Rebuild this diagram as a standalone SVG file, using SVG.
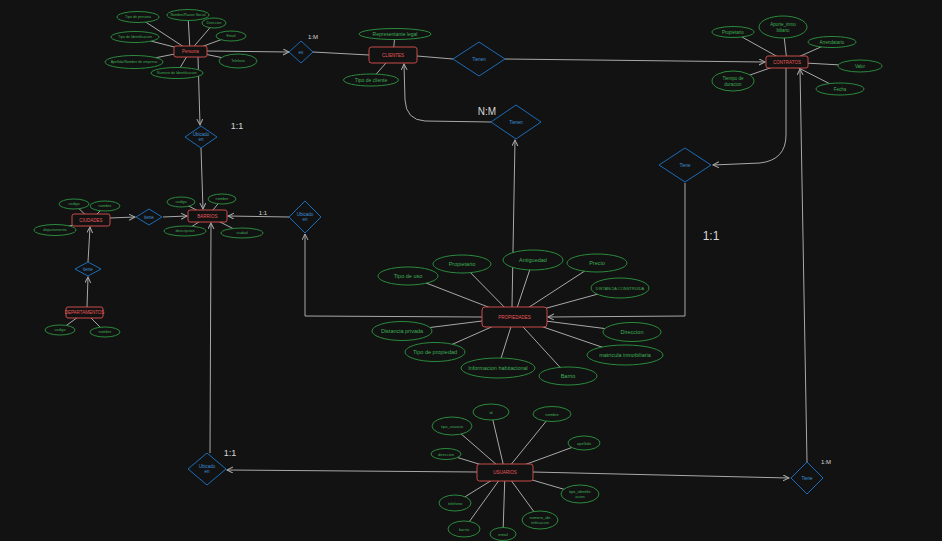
<svg xmlns="http://www.w3.org/2000/svg" width="942" height="541" viewBox="0 0 942 541">
<style>
.bg{fill:#121212}
.ln{stroke:#a8a8a8;stroke-width:1;fill:none}
.ent rect{fill:#121212;stroke:#c94a4a;stroke-width:1}
.ent text{fill:#e8585a;font-family:"Liberation Sans",sans-serif;text-anchor:middle;dominant-baseline:central;font-size:4.5px}
.att ellipse{fill:#121212;stroke:#2b8a3e;stroke-width:1}
.att text{fill:#3fae55;font-family:"Liberation Sans",sans-serif;text-anchor:middle;dominant-baseline:central}
.rel polygon{fill:#121212;stroke:#1b6cb8;stroke-width:1;stroke-linejoin:round}
.rel text{fill:#3d8fd6;font-family:"Liberation Sans",sans-serif;text-anchor:middle;dominant-baseline:central;font-size:4.5px}
.lbl{fill:#d8d8d8;font-family:"Liberation Sans",sans-serif;text-anchor:middle;dominant-baseline:central}
</style>
<defs>
<marker id="ar" markerUnits="userSpaceOnUse" markerWidth="8" markerHeight="8" refX="6" refY="3" orient="auto">
<path d="M0,0 L6,3 L0,6" fill="none" stroke="#a8a8a8" stroke-width="1"/>
</marker>
</defs>
<rect class="bg" x="0" y="0" width="942" height="541"/>
<g id="connectors" class="ln">
<path d="M190,51 L138,17 M190,51 L188,15 M190,51 L214,23 M190,51 L231,36 M190,51 L135,37 M190,51 L238,61 M190,51 L134,62 M190,51 L177,73"/>
<path d="M393,55 L395,34 M393,55 L371,80"/>
<path d="M787,62 L733,32 M787,62 L783,27 M787,62 L832,42 M787,62 L859,66 M787,62 L840,89 M787,62 L733,81"/>
<path d="M208,216 L181,202 M208,216 L222,199 M208,216 L185,231 M208,216 L242,233"/>
<path d="M91,220 L74,204 M91,220 L105,206 M91,220 L55,230"/>
<path d="M85,312 L60,330 M85,312 L105,332"/>
<path d="M514,317 L408,276 M514,317 L462,264 M514,317 L533,260 M514,317 L597,263 M514,317 L620,288 M514,317 L632,332 M514,317 L625,355 M514,317 L568,376 M514,317 L498,368 M514,317 L435,352 M514,317 L402,331"/>
<path d="M505,472 L452,426 M505,472 L491,412 M505,472 L552,414 M505,472 L584,443 M505,472 L446,454 M505,472 L580,494 M505,472 L540,520 M505,472 L455,503 M505,472 L464,529 M505,472 L503,534"/>
<path d="M207,51 L289,52" marker-end="url(#ar)"/>
<path d="M313,52 L369,55"/>
<path d="M417,56 L453,59"/>
<path d="M505,59 L765,62" marker-end="url(#ar)"/>
<path d="M491,122 L425,121 Q406,120 405,100 L404,64" marker-end="url(#ar)"/>
<path d="M786,68 L786,135 Q786,160 760,163 L713,165" marker-end="url(#ar)"/>
<path d="M685,183 L685,316 L548,317" marker-end="url(#ar)"/>
<path d="M533,472 L789,478" marker-end="url(#ar)"/>
<path d="M807,462 L800,69" marker-end="url(#ar)"/>
<path d="M198,57 L200,125" marker-end="url(#ar)"/>
<path d="M201,148 L203,209" marker-end="url(#ar)"/>
<path d="M289,217 L228,216" marker-end="url(#ar)"/>
<path d="M482,317 L305,316 L305,234" marker-end="url(#ar)"/>
<path d="M512,307 L515,140" marker-end="url(#ar)"/>
<path d="M110,218 L135,217" marker-end="url(#ar)"/>
<path d="M163,217 L187,216" marker-end="url(#ar)"/>
<path d="M88,262 L90,227" marker-end="url(#ar)"/>
<path d="M87,307 L88,277" marker-end="url(#ar)"/>
<path d="M477,472 L227,470" marker-end="url(#ar)"/>
<path d="M210,453 L211,223" marker-end="url(#ar)"/>
</g>
<g id="labels">
<text class="lbl" x="313" y="37" font-size="6">1:M</text>
<text class="lbl" x="237" y="126" font-size="9">1:1</text>
<text class="lbl" x="487" y="111" font-size="10">N:M</text>
<text class="lbl" x="711" y="236" font-size="12">1:1</text>
<text class="lbl" x="263" y="213" font-size="6">1:1</text>
<text class="lbl" x="230" y="453" font-size="9">1:1</text>
<text class="lbl" x="826" y="462" font-size="6">1:M</text>
</g>
<g id="persona" class="ent"><rect x="174" y="46" width="33" height="11" rx="2"/><text x="190.5" y="51.5" font-size="4">Persona</text></g>
<g id="persona-attrs" class="att" font-size="3.6">
<g id="p-tipo-persona"><ellipse cx="138" cy="17" rx="21" ry="5.5"/><text x="138" y="17">Tipo de persona</text></g>
<g id="p-nombre"><ellipse cx="188" cy="15" rx="21" ry="5.5"/><text x="188" y="15">Nombre/Razon Social</text></g>
<g id="p-direccion"><ellipse cx="214" cy="23" rx="12" ry="5"/><text x="214" y="23">Direccion</text></g>
<g id="p-email"><ellipse cx="231" cy="36" rx="15" ry="5"/><text x="231" y="36">Email</text></g>
<g id="p-tipo-id"><ellipse cx="135" cy="37" rx="24" ry="5.5"/><text x="135" y="37">Tipo de Identificacion</text></g>
<g id="p-telefono"><ellipse cx="238" cy="61" rx="19" ry="7"/><text x="238" y="61">Telefono</text></g>
<g id="p-apellido"><ellipse cx="134" cy="62" rx="29" ry="6.5"/><text x="134" y="62">Apellido/Nombre de empresa</text></g>
<g id="p-numero-id"><ellipse cx="177" cy="73" rx="26" ry="5.5"/><text x="177" y="73">Numero de Identificacion</text></g>
</g>
<g id="rel-es" class="rel"><polygon points="301,41 313,52 301,63 289,52"/><text x="301" y="52">es</text></g>
<g id="clientes" class="ent"><rect x="369" y="47" width="48" height="16" rx="2.5"/><text x="393" y="55">CLIENTES</text></g>
<g id="clientes-attrs" class="att" font-size="5">
<g id="c-rep"><ellipse cx="395" cy="34" rx="36" ry="5.5"/><text x="395" y="34">Representante legal</text></g>
<g id="c-tipo"><ellipse cx="371" cy="80" rx="27.5" ry="6"/><text x="371" y="80">Tipo de cliente</text></g>
</g>
<g id="rel-tienen1" class="rel"><polygon points="479,42 505,59 479,76 453,59"/><text x="479" y="59">Tienen</text></g>
<g id="rel-tienen2" class="rel"><polygon points="516,105 541,122 516,139 491,122"/><text x="516" y="122">Tienen</text></g>
<g id="contratos" class="ent"><rect x="766" y="56" width="42" height="12" rx="2"/><text x="787" y="62">CONTRATOS</text></g>
<g id="contratos-attrs" class="att" font-size="4.5">
<g id="ct-propietario"><ellipse cx="733" cy="32" rx="21" ry="5.5"/><text x="733" y="32">Propietario</text></g>
<g id="ct-aporte"><ellipse cx="783" cy="27" rx="24" ry="11"/><text x="783" y="24.5">Aporte_inmo</text><text x="783" y="30.5">biliario</text></g>
<g id="ct-arrendatario"><ellipse cx="832" cy="42" rx="24" ry="5.5"/><text x="832" y="42">Arrendatario</text></g>
<g id="ct-valor"><ellipse cx="860" cy="66" rx="22" ry="6"/><text x="860" y="66">Valor</text></g>
<g id="ct-fecha"><ellipse cx="840" cy="89" rx="24" ry="6"/><text x="840" y="89">Fecha</text></g>
<g id="ct-tiempo"><ellipse cx="733" cy="81" rx="21" ry="10"/><text x="733" y="78.5">Tiempo de</text><text x="733" y="84.5">duracion</text></g>
</g>
<g id="rel-tiene-prop" class="rel"><polygon points="685,148 711,165 685,182 659,165"/><text x="685" y="165">Tiene</text></g>
<g id="rel-ubicado1" class="rel"><polygon points="201,126 217,137 201,148 185,137"/><text x="201" y="134.5" font-size="3.5">Ubicado</text><text x="201" y="139.5" font-size="3.5">en</text></g>
<g id="barrios" class="ent"><rect x="188" y="210" width="39" height="12" rx="2"/><text x="207.5" y="216" font-size="4">BARRIOS</text></g>
<g id="barrios-attrs" class="att" font-size="3.8">
<g id="b-codigo"><ellipse cx="181" cy="202" rx="14" ry="5"/><text x="181" y="202">codigo</text></g>
<g id="b-nombre"><ellipse cx="222" cy="199" rx="14" ry="5"/><text x="222" y="199">nombre</text></g>
<g id="b-descripcion"><ellipse cx="185" cy="231" rx="21" ry="5"/><text x="185" y="231">descripcion</text></g>
<g id="b-ciudad"><ellipse cx="242" cy="233" rx="21" ry="5"/><text x="242" y="233">ciudad</text></g>
</g>
<g id="ciudades" class="ent"><rect x="72" y="214" width="38" height="12" rx="2"/><text x="91" y="220" font-size="4">CIUDADES</text></g>
<g id="ciudades-attrs" class="att" font-size="3.8">
<g id="ci-codigo"><ellipse cx="74" cy="204" rx="15" ry="5"/><text x="74" y="204">codigo</text></g>
<g id="ci-nombre"><ellipse cx="105" cy="206" rx="15" ry="5"/><text x="105" y="206">nombre</text></g>
<g id="ci-departamento"><ellipse cx="55" cy="230" rx="21" ry="5.5"/><text x="55" y="230">departamento</text></g>
</g>
<g id="rel-tiene-ciudad" class="rel"><polygon points="149,209 162,217 149,225 136,217"/><text x="149" y="217" font-size="3.8">tiene</text></g>
<g id="rel-ubicado2" class="rel"><polygon points="305,201 321,217 305,233 289,217"/><text x="305" y="214.5" font-size="3.5">Ubicado</text><text x="305" y="219.5" font-size="3.5">en</text></g>
<g id="rel-tiene-dep" class="rel"><polygon points="88,262 101,269 88,276 75,269"/><text x="88" y="269" font-size="3.8">tiene</text></g>
<g id="departamentos" class="ent"><rect x="66" y="307" width="37" height="11" rx="2"/><text x="84.5" y="312.5" font-size="3.8">DEPARTAMENTOS</text></g>
<g id="departamentos-attrs" class="att" font-size="3.8">
<g id="d-codigo"><ellipse cx="60" cy="330" rx="15" ry="5"/><text x="60" y="330">codigo</text></g>
<g id="d-nombre"><ellipse cx="105" cy="332" rx="15" ry="5"/><text x="105" y="332">nombre</text></g>
</g>
<g id="propiedades" class="ent"><rect x="482" y="307" width="65" height="20" rx="3"/><text x="514.5" y="317">PROPIEDADES</text></g>
<g id="propiedades-attrs" class="att" font-size="5.5">
<g id="pr-tipo-uso"><ellipse cx="408" cy="276" rx="30" ry="9"/><text x="408" y="276">Tipo de uso</text></g>
<g id="pr-propietario"><ellipse cx="462" cy="264" rx="29" ry="9"/><text x="462" y="264">Propietario</text></g>
<g id="pr-antiguedad"><ellipse cx="533" cy="260" rx="30" ry="10"/><text x="533" y="260">Antiguedad</text></g>
<g id="pr-precio"><ellipse cx="597" cy="263" rx="30" ry="9"/><text x="597" y="263">Precio</text></g>
<g id="pr-distancia-construida"><ellipse cx="620" cy="288" rx="29" ry="10"/><text x="620" y="288" font-size="4">DISTANCIA CONSTRUIDA</text></g>
<g id="pr-direccion"><ellipse cx="632" cy="332" rx="29" ry="9.5"/><text x="632" y="332">Direccion</text></g>
<g id="pr-matricula"><ellipse cx="625" cy="355" rx="38" ry="10"/><text x="625" y="355">matricula inmobiliaria</text></g>
<g id="pr-barrio"><ellipse cx="568" cy="376" rx="29" ry="9"/><text x="568" y="376">Barrio</text></g>
<g id="pr-info-hab"><ellipse cx="498" cy="368" rx="37" ry="10"/><text x="498" y="368">Informacion habitacional</text></g>
<g id="pr-tipo-propiedad"><ellipse cx="435" cy="352" rx="30" ry="9.5"/><text x="435" y="352">Tipo de propiedad</text></g>
<g id="pr-distancia-privada"><ellipse cx="402" cy="331" rx="30" ry="9.5"/><text x="402" y="331">Distancia privada</text></g>
</g>
<g id="usuarios" class="ent"><rect x="477" y="464" width="56" height="17" rx="2.5"/><text x="505" y="472.5">USUARIOS</text></g>
<g id="usuarios-attrs" class="att" font-size="4">
<g id="u-tipo-usuario"><ellipse cx="452" cy="426" rx="20" ry="9"/><text x="452" y="426">tipo_usuario</text></g>
<g id="u-id"><ellipse cx="491" cy="412" rx="18" ry="8"/><text x="491" y="412">id</text></g>
<g id="u-nombre"><ellipse cx="552" cy="414" rx="19" ry="7.5"/><text x="552" y="414">nombre</text></g>
<g id="u-apellido"><ellipse cx="584" cy="443" rx="16" ry="7"/><text x="584" y="443">apellido</text></g>
<g id="u-direccion"><ellipse cx="446" cy="454" rx="15" ry="5.5"/><text x="446" y="454">direccion</text></g>
<g id="u-tipo-id"><ellipse cx="580" cy="494" rx="19" ry="9"/><text x="580" y="491.5">tipo_identific</text><text x="580" y="496.5">acion</text></g>
<g id="u-numero-id"><ellipse cx="540" cy="520" rx="18" ry="9"/><text x="540" y="517.5">numero_ide</text><text x="540" y="522.5">ntificacion</text></g>
<g id="u-telefono"><ellipse cx="455" cy="503" rx="16" ry="8"/><text x="455" y="503">telefono</text></g>
<g id="u-barrio"><ellipse cx="464" cy="529" rx="16" ry="8"/><text x="464" y="529">barrio</text></g>
<g id="u-email"><ellipse cx="503" cy="534" rx="13" ry="6.5"/><text x="503" y="534">email</text></g>
</g>
<g id="rel-ubicado3" class="rel"><polygon points="207,453 226,469 207,485 188,469"/><text x="207" y="466.5" font-size="3.5">Ubicado</text><text x="207" y="471.5" font-size="3.5">en</text></g>
<g id="rel-tiene-usuario" class="rel"><polygon points="807,462 823,478 807,494 791,478"/><text x="807" y="478">Tiene</text></g>
</svg>
